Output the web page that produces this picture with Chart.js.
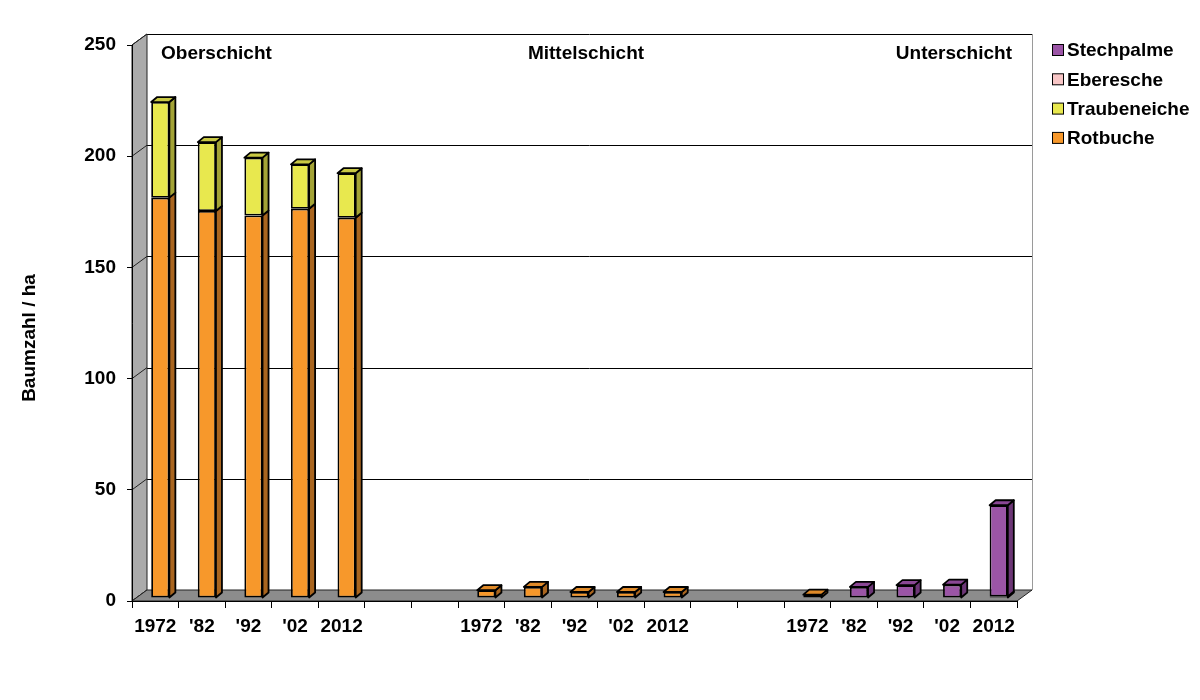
<!DOCTYPE html>
<html>
<head>
<meta charset="utf-8">
<script src="https://cdn.jsdelivr.net/npm/chart.js@4.4.0/dist/chart.umd.min.js"></script>
<style>
    body { margin: 0; background: #fff; }
    #wrap { width: 1200px; height: 700px; }
</style>
</head>
<body>
<div id="wrap"><canvas id="myChart" width="1200" height="700"></canvas></div>
<script>
    // data
    var years = ['1972', "'82", "'92", "'02", '2012'];
    var labels = years.concat(['', ''], years, ['', ''], years);
    var rotbuche     = [180, 174, 172, 175, 171, null, null, 3.5, 5, 2.7, 2.7, 2.7, null, null, 1.5, null, null, null, null];
    var traubeneiche = [43, 31, 26, 20, 20, null, null, null, null, null, null, null, null, null, null, null, null, null, null];
    var eberesche    = [null, null, null, null, null, null, null, null, null, null, null, null, null, null, null, null, null, null, 0.7];
    var stechpalme   = [null, null, null, null, null, null, null, null, null, null, null, null, null, null, null, 5, 5.8, 6, 41];
    var layers = ['Oberschicht', 'Mittelschicht', 'Unterschicht'];
    var yTicks = [0, 50, 100, 150, 200, 250];

    var FONT = "'Liberation Sans', Arial, sans-serif";
    Chart.defaults.font.family = FONT;
    Chart.defaults.color = '#000';

    var DX = 15, DY = 11;        // depth of the walls
    var BX = 6, BY = 5;          // depth of a bar
    var SHIFT_X = 5, SHIFT_Y = -3;

    function poly(ctx, pts) {
        ctx.beginPath();
        ctx.moveTo(pts[0][0], pts[0][1]);
        for (var i = 1; i < pts.length; i++) ctx.lineTo(pts[i][0], pts[i][1]);
        ctx.closePath();
        ctx.fill();
        ctx.stroke();
    }

    var walls = {
        id: 'walls',
        beforeDraw: function (chart) {
            var ctx = chart.ctx, a = chart.chartArea, ys = chart.scales.y;
            ctx.save();
            ctx.fillStyle = '#fff';
            ctx.fillRect(a.left + DX, a.top - DY, a.right - a.left, a.bottom - a.top);
            ctx.strokeStyle = '#000';
            ctx.lineWidth = 1;
            yTicks.forEach(function (v) {
                var py = Math.round(ys.getPixelForValue(v) - DY) + 0.5;
                ctx.beginPath();
                ctx.moveTo(a.left + DX, py);
                ctx.lineTo(a.right + DX, py);
                ctx.stroke();
            });
            // right edge of back wall
            ctx.strokeStyle = '#9a9a9a';
            ctx.beginPath();
            ctx.moveTo(a.right + DX + 0.5, a.top - DY);
            ctx.lineTo(a.right + DX + 0.5, a.bottom - DY);
            ctx.stroke();
            // side wall
            ctx.strokeStyle = '#222';
            ctx.fillStyle = '#ababab';
            poly(ctx, [[a.left, a.top], [a.left + DX, a.top - DY], [a.left + DX, a.bottom - DY], [a.left, a.bottom]]);
            yTicks.forEach(function (v) {
                var py = ys.getPixelForValue(v);
                ctx.beginPath();
                ctx.moveTo(a.left, py);
                ctx.lineTo(a.left + DX, py - DY);
                ctx.stroke();
            });
            // floor
            ctx.fillStyle = '#8c8c8c';
            poly(ctx, [[a.left, a.bottom], [a.left + DX, a.bottom - DY], [a.right + DX, a.bottom - DY], [a.right, a.bottom]]);
            ctx.restore();
        }
    };

    var bars3d = {
        id: 'bars3d',
        beforeDatasetsDraw: function (chart) {
            chart.ctx.save();
            chart.ctx.translate(SHIFT_X, SHIFT_Y);
        },
        afterDatasetsDraw: function (chart) {
            var ctx = chart.ctx;
            var metas = chart.getSortedVisibleDatasetMetas();
            ctx.lineWidth = 1.8;
            ctx.strokeStyle = '#000';
            ctx.lineJoin = 'round';
            for (var i = 0; i < chart.data.labels.length; i++) {
                var topIdx = -1;
                metas.forEach(function (m, k) {
                    if (chart.data.datasets[m.index].data[i] != null) topIdx = k;
                });
                metas.forEach(function (m, k) {
                    var ds = chart.data.datasets[m.index];
                    if (ds.data[i] == null) return;
                    var el = m.data[i];
                    var half = el.width / 2, l = el.x - half, r = el.x + half;
                    var top = Math.min(el.y, el.base), bot = Math.max(el.y, el.base);
                    ctx.fillStyle = ds.sideColor;
                    poly(ctx, [[r, top], [r + BX, top - BY], [r + BX, bot - BY], [r, bot]]);
                    if (k === topIdx) {
                        ctx.fillStyle = ds.topColor;
                        poly(ctx, [[l, top], [l + BX, top - BY], [r + BX, top - BY], [r, top]]);
                    }
                });
            }
            ctx.restore();
        }
    };

    var texts = {
        id: 'texts',
        afterDraw: function (chart) {
            var ctx = chart.ctx;
            ctx.save();
            ctx.fillStyle = '#000';
            ctx.font = 'bold 19px ' + FONT;
            ctx.textBaseline = 'middle';
            ctx.textAlign = 'left';
            ctx.fillText(layers[0], 161, 54);
            ctx.textAlign = 'center';
            ctx.fillText(layers[1], 586, 54);
            ctx.textAlign = 'right';
            ctx.fillText(layers[2], 1012, 54);

            // y axis title
            ctx.save();
            ctx.translate(35, 338);
            ctx.rotate(-Math.PI / 2);
            ctx.textAlign = 'center';
            ctx.textBaseline = 'alphabetic';
            ctx.fillText('Baumzahl / ha', 0, 0);
            ctx.restore();

            // legend, top of the stack first
            var ds = chart.data.datasets.slice().reverse();
            ctx.textAlign = 'left';
            ctx.lineWidth = 1;
            ctx.strokeStyle = '#000';
            ds.forEach(function (d, k) {
                var cy = 50 + k * 29.3;
                ctx.fillStyle = d.backgroundColor;
                ctx.fillRect(1052.5, cy - 5.5, 11, 11);
                ctx.strokeRect(1052.5, cy - 5.5, 11, 11);
                ctx.fillStyle = '#000';
                ctx.fillText(d.label, 1067, cy + 1);
            });
            ctx.restore();
        }
    };

    function bar(label, data, front, side, top) {
        return {
            label: label,
            data: data,
            backgroundColor: front,
            sideColor: side,
            topColor: top,
            borderColor: '#000',
            borderWidth: 1.8,
            borderSkipped: false,
            barPercentage: 0.39,
            categoryPercentage: 1
        };
    }

    new Chart(document.getElementById('myChart').getContext('2d'), {
        type: 'bar',
        data: {
            labels: labels,
            datasets: [
                bar('Rotbuche', rotbuche, '#f7982b', '#a9651f', '#e08a28'),
                bar('Traubeneiche', traubeneiche, '#e8e84e', '#a3a336', '#c9c944'),
                bar('Eberesche', eberesche, '#f8c6c6', '#b38a8a', '#e0b0b0'),
                bar('Stechpalme', stechpalme, '#9b55a6', '#6c3676', '#8a4795')
            ]
        },
        options: {
            responsive: false,
            animation: false,
            devicePixelRatio: 1,
            layout: { padding: { left: 0, top: 45, right: 183, bottom: 0 } },
            plugins: { legend: { display: false }, tooltip: { enabled: false } },
            scales: {
                x: {
                    stacked: true,
                    grid: { drawOnChartArea: false, offset: true, tickLength: 7, color: '#000' },
                    border: { color: '#000', width: 1 },
                    ticks: { font: { size: 19, weight: 'bold' }, color: '#000', padding: 7, maxRotation: 0, autoSkip: false },
                    afterFit: function (s) { s.height = 99; }
                },
                y: {
                    stacked: true,
                    min: 0,
                    max: 250,
                    ticks: { stepSize: 50, font: { size: 19, weight: 'bold' }, color: '#000', padding: 11 },
                    grid: { drawOnChartArea: false, tickLength: 5, color: '#000' },
                    border: { color: '#000', width: 1 },
                    afterFit: function (s) { s.width = 132; }
                }
            }
        },
        plugins: [walls, bars3d, texts]
    });
</script>
</body>
</html>
